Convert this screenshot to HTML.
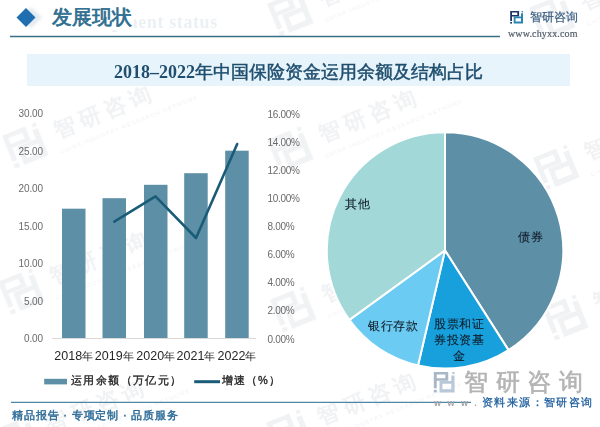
<!DOCTYPE html>
<html><head><meta charset="utf-8">
<style>
html,body{margin:0;padding:0;background:#fff;}
body{width:600px;height:427px;position:relative;overflow:hidden;font-family:"Liberation Sans",sans-serif;}
.a{position:absolute;white-space:nowrap;}
.yl{left:0;width:43px;text-align:right;font-size:10px;color:#6a6a6a;line-height:14px;letter-spacing:-0.1px}
.yr{left:267.5px;font-size:10px;color:#6a6a6a;line-height:14px;letter-spacing:-0.3px}
.xl{top:348px;width:50px;text-align:center;font-size:12.5px;color:#262626;line-height:16px;}
.pl{font-size:11.5px;color:#101c28;line-height:14px;letter-spacing:0.6px;-webkit-text-stroke:0.1px #101c28}
</style></head>
<body>
<svg class="a" style="left:0;top:0" width="600" height="427" viewBox="0 0 600 427">
<defs>
  <g id="wm" transform="rotate(-22)">
    <g transform="translate(-18,-18) scale(2.8)">
      <path fill-rule="evenodd" d="M0.2,0 H9.1 V5.4 H2 V10 H0.2 Z M2,1.6 V3.9 H7.3 V1.6 Z"/>
      <rect x="0.2" y="11" width="1.8" height="1.6"/>
      <path fill-rule="evenodd" d="M3.7,5.6 H11 V2.2 H13 V12.6 H3.7 Z M5.5,7.3 V10.6 H11 V7.3 Z"/>
      <rect x="11.6" y="0" width="1.4" height="1.3"/>
    </g>
    <text x="33" y="5" font-size="22" font-weight="bold" letter-spacing="5" font-family="Liberation Sans, sans-serif">智研咨询</text>
    <text x="30" y="21" font-size="6" letter-spacing="1" font-family="Liberation Sans, sans-serif">CHINA INDUSTRY RESEARCH NETWORK</text>
  </g>
</defs>
<g fill="#b4bcc6" opacity="0.2">
  <use href="#wm" x="0" y="0" transform="translate(25,146)"/>
  <use href="#wm" transform="translate(290,150)"/>
  <use href="#wm" transform="translate(556,168)"/>
  <use href="#wm" transform="translate(21,292)"/>
  <use href="#wm" transform="translate(293,310)"/>
  <use href="#wm" transform="translate(565,318)"/>
  <use href="#wm" transform="translate(17,440)"/>
  <use href="#wm" transform="translate(289,433)"/>
  <use href="#wm" transform="translate(552,18)"/>
  <use href="#wm" transform="translate(290,14)"/>
</g>
  <filter id="bl" x="-50%" y="-50%" width="200%" height="200%"><feGaussianBlur stdDeviation="1.5"/></filter><polygon points="31,7 42,17.5 31,28 20,17.5" fill="#e4eaf0" filter="url(#bl)"/>
  <polygon points="26,8 35.5,17.5 26,27 16.5,17.5" fill="#1f6eb0"/>
  <line x1="10" y1="36.5" x2="500" y2="36.5" stroke="#386f88" stroke-width="1.3"/>
  <rect x="27" y="54" width="543" height="32" fill="#e8f4fb"/>
  <line x1="52" y1="338.5" x2="256" y2="338.5" stroke="#d9d9d9" stroke-width="1"/>
  <g fill="#5d90a7"><rect x="62" y="208.7" width="23.5" height="129.3"/><rect x="102.5" y="198.2" width="23.5" height="139.8"/><rect x="144" y="184.8" width="23.5" height="153.2"/><rect x="184.2" y="173.2" width="23.5" height="164.8"/><rect x="225.2" y="150.7" width="23.5" height="187.3"/></g>
  <polyline points="114.3,221.6 155.5,196.4 196,238 237.2,144" fill="none" stroke="#1a5c78" stroke-width="2.6" stroke-linejoin="round" stroke-linecap="round"/>
  <rect x="44.2" y="378.8" width="22.8" height="5.6" fill="#5d90a7"/>
  <line x1="194.2" y1="381.7" x2="220" y2="381.7" stroke="#1a5c78" stroke-width="3"/>
  <g stroke="#fff" stroke-width="2" stroke-linejoin="round">
  <path d="M445,250.4 L445.00,132.20 A118.2,118.2 0 0 1 508.51,350.09 Z" fill="#5d90a7"/>
<path d="M445,250.4 L508.51,350.09 A118.2,118.2 0 0 1 418.01,365.48 Z" fill="#18a0dc"/>
<path d="M445,250.4 L418.01,365.48 A118.2,118.2 0 0 1 349.37,319.88 Z" fill="#6ccbf2"/>
<path d="M445,250.4 L349.37,319.88 A118.2,118.2 0 0 1 445.00,132.20 Z" fill="#a2d8d8"/>
  </g>
  <line x1="11" y1="402.3" x2="471" y2="402.3" stroke="#4f86a6" stroke-width="1.3"/>
  <g transform="translate(433.5,372) scale(1.62)">
    <path fill-rule="evenodd" d="M0.2,0 H9.1 V5.4 H2 V10 H0.2 Z M2,1.6 V3.9 H7.3 V1.6 Z" fill="#a9b6c6"/>
    <rect x="0.2" y="11" width="1.8" height="1.6" fill="#a9b6c6"/>
    <path fill-rule="evenodd" d="M3.7,5.6 H11 V2.2 H13 V12.6 H3.7 Z M5.5,7.3 V10.6 H11 V7.3 Z" fill="#b9c8d8"/>
    <rect x="11.6" y="0" width="1.4" height="1.3" fill="#b9c8d8"/>
  </g>

  <g transform="translate(510,11)">
    <path fill-rule="evenodd" d="M0.2,0 H9.1 V5.4 H2 V10 H0.2 Z M2,1.6 V3.9 H7.3 V1.6 Z" fill="#1c3566"/>
    <rect x="0.2" y="11" width="1.8" height="1.6" fill="#1c3566"/>
    <path fill-rule="evenodd" d="M3.7,5.6 H11 V2.2 H13 V12.6 H3.7 Z M5.5,7.3 V10.6 H11 V7.3 Z" fill="#2a86b0"/>
    <rect x="11.6" y="0" width="1.4" height="1.3" fill="#2a86b0"/>
  </g>
</svg>
<div class="a" style="left:56.5px;top:12px;font:bold 18px 'Liberation Serif',serif;color:#ebf0f4;letter-spacing:0.6px">Development status</div>
<div class="a" style="left:50px;top:4px;padding:0 2px;background:#fff;font:20px 'Liberation Serif',serif;color:#2d6d8f;line-height:26px;-webkit-text-stroke:0.7px #2d6d8f">发展现状</div>
<div class="a" style="left:530px;top:9px;font-size:12px;color:#3a5d80;-webkit-text-stroke:0.2px #3a5d80">智研咨询</div>
<div class="a" style="left:508px;top:28px;font:10px 'Liberation Serif',serif;color:#55606c;letter-spacing:0.15px;-webkit-text-stroke:0.2px #55606c">www.chyxx.com</div>
<div class="a" style="left:27px;top:60px;width:543px;text-align:center;font:bold 18px 'Liberation Serif',serif;color:#1f4e6e">2018–2022<span style="font-weight:normal;-webkit-text-stroke:0.5px #1f4e6e">年中国保险资金运用余额及结构占比</span></div>
<div class="a yl" style="top:332.0px">0.00</div><div class="a yl" style="top:294.5px">5.00</div><div class="a yl" style="top:257.0px">10.00</div><div class="a yl" style="top:219.5px">15.00</div><div class="a yl" style="top:182.0px">20.00</div><div class="a yl" style="top:144.5px">25.00</div><div class="a yl" style="top:107.0px">30.00</div>
<div class="a yr" style="top:332.5px">0.00%</div><div class="a yr" style="top:304.4px">2.00%</div><div class="a yr" style="top:276.2px">4.00%</div><div class="a yr" style="top:248.1px">6.00%</div><div class="a yr" style="top:220.0px">8.00%</div><div class="a yr" style="top:191.9px">10.00%</div><div class="a yr" style="top:163.8px">12.00%</div><div class="a yr" style="top:135.6px">14.00%</div><div class="a yr" style="top:107.5px">16.00%</div>
<div class="a xl" style="left:48.75px">2018<span style="font-size:10.5px">年</span></div><div class="a xl" style="left:89.25px">2019<span style="font-size:10.5px">年</span></div><div class="a xl" style="left:130.75px">2020<span style="font-size:10.5px">年</span></div><div class="a xl" style="left:170.95px">2021<span style="font-size:10.5px">年</span></div><div class="a xl" style="left:211.95px">2022<span style="font-size:10.5px">年</span></div>
<div class="a" style="left:71px;top:373px;font-size:11px;color:#262626;letter-spacing:1.4px;-webkit-text-stroke:0.35px #262626">运用余额（万亿元）</div>
<div class="a" style="left:221.5px;top:373px;font-size:11px;color:#262626;letter-spacing:1.2px;-webkit-text-stroke:0.35px #262626">增速（%）</div>
<div class="a pl" style="left:345px;top:197px">其他</div>
<div class="a pl" style="left:518px;top:230px">债券</div>
<div class="a pl" style="left:368px;top:319px">银行存款</div>
<div class="a pl" style="left:434px;top:316px;line-height:16px;text-align:center">股票和证<br>券投资基<br>金</div>
<div class="a" style="left:12px;top:408px;font-size:11px;color:#2f6d98;letter-spacing:0.85px;-webkit-text-stroke:0.45px #2f6d98">精品报告 · 专项定制 · 品质服务</div>
<div class="a" style="left:464px;top:367px;font-size:24px;color:#b4b4b4;letter-spacing:7.5px;line-height:30px;-webkit-text-stroke:0.6px #b4b4b4">智研咨询</div>
<div class="a" style="left:434px;top:398px;font-size:9px;color:#a0a4a8;letter-spacing:6.5px;font-weight:bold">www.</div>
<div class="a" style="left:482px;top:395px;font-size:11px;color:#1f5f9f;letter-spacing:1.4px;-webkit-text-stroke:0.3px #1f5f9f">资料来源：智研咨询</div>
</body></html>
